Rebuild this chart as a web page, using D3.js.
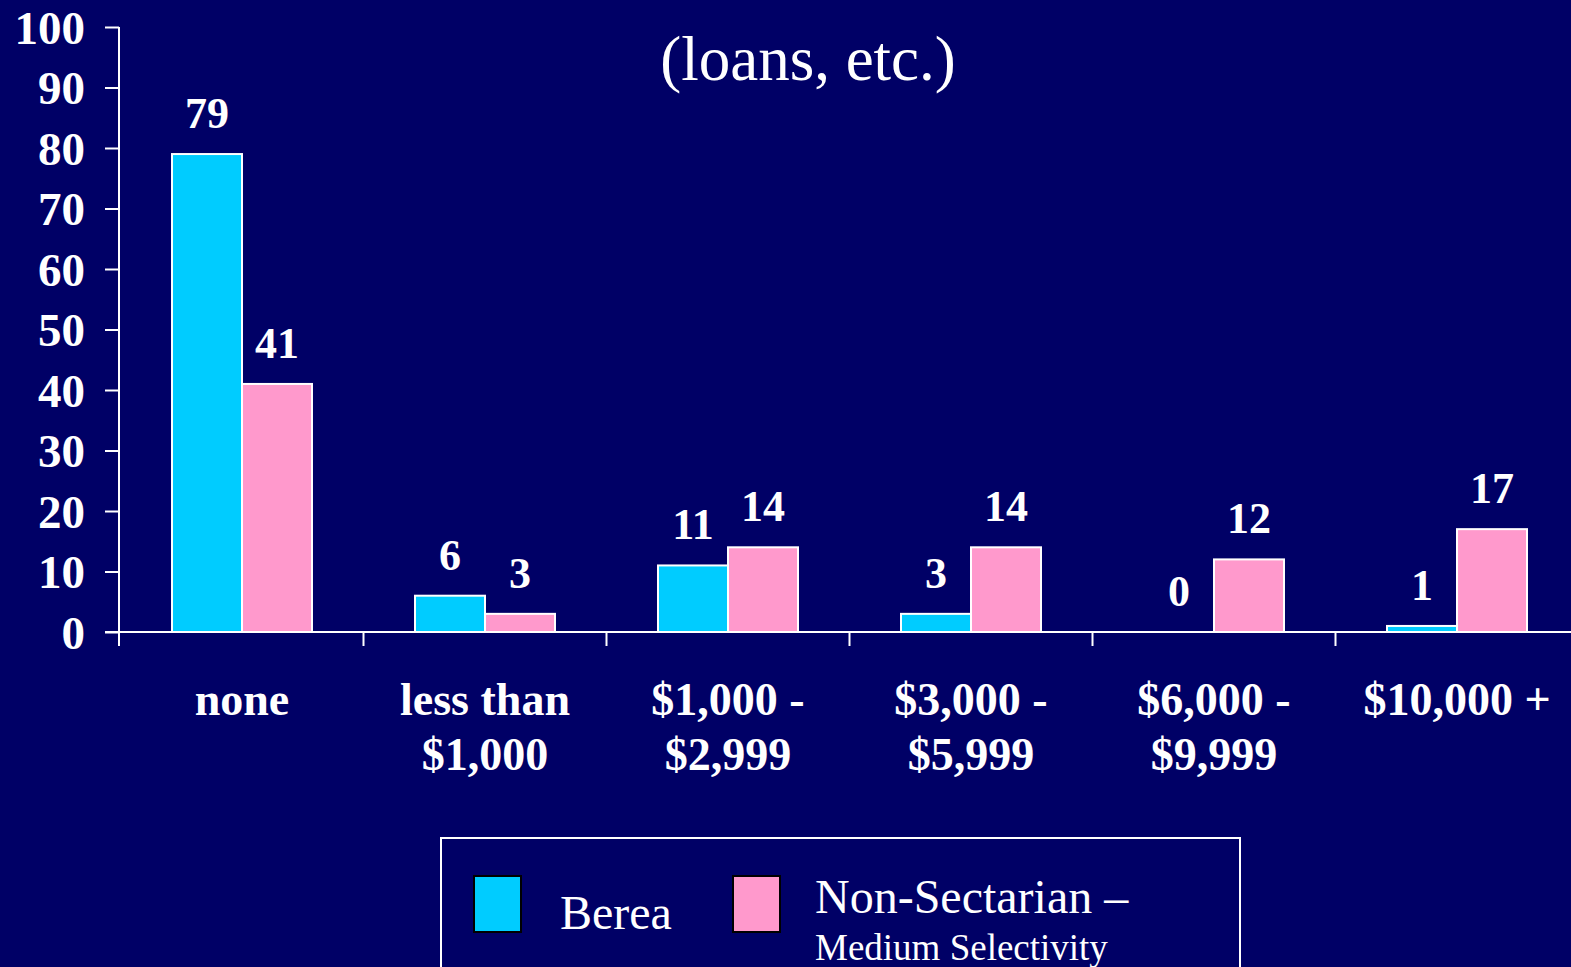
<!DOCTYPE html>
<html>
<head>
<meta charset="utf-8">
<script src="https://cdn.jsdelivr.net/npm/d3@7"></script>
<style>
  html, body { margin: 0; padding: 0; background: #000066; overflow: hidden; }
  text { font-family: "Liberation Serif", "Times New Roman", serif; fill: #ffffff; }
</style>
</head>
<body>
<div id="chart"></div>
<script>
// categories and series
const categories = [["none"], ["less than", "$1,000"], ["$1,000 -", "$2,999"],
                    ["$3,000 -", "$5,999"], ["$6,000 -", "$9,999"], ["$10,000 +"]];
const seriesNames = ["Berea", "Non-Sectarian"];
const berea = [79, 6, 11, 3, 0, 1];
const nonSectarian = [41, 3, 14, 14, 12, 17];
const yTicks = [0, 10, 20, 30, 40, 50, 60, 70, 80, 90, 100];
const colors = ["#00ccff", "#ff99cc"];

const width = 1571, height = 967;
const margin = { top: 27, left: 119, bottom: 335 };

const svg = d3.select("#chart").append("svg")
    .attr("width", width)
    .attr("height", height);

svg.append("rect").attr("width", width).attr("height", height).attr("fill", "#000066");

// subtitle
svg.append("text")
    .attr("x", 808).attr("y", 80)
    .attr("text-anchor", "middle")
    .style("font-size", "63px")
    .text("(loans, etc.)");

const g = svg.append("g").attr("transform", "translate(" + margin.left + "," + margin.top + ")");
const innerH = height - margin.top - margin.bottom;

const x0 = d3.scaleBand().domain(d3.range(categories.length)).range([1.5, 1.5 + 243 * 6]);
const x1 = d3.scaleBand().domain([0, 1]).range([51.5, 191.5]);
const y = d3.scaleLinear().domain([0, 100]).range([innerH, 0]);

const rows = categories.map((c, i) => ({ i: i, vals: [berea[i], nonSectarian[i]] }));

// bars
const groups = g.selectAll(".grp").data(rows).enter().append("g")
    .attr("transform", d => "translate(" + x0(d.i) + ",0)");

groups.selectAll("rect").data(d => d.vals.map((v, k) => ({ v: v, k: k }))).enter()
    .filter(d => d.v > 0)
    .append("rect")
    .attr("x", d => x1(d.k))
    .attr("y", d => y(d.v))
    .attr("width", x1.bandwidth())
    .attr("height", d => innerH - y(d.v))
    .attr("fill", d => colors[d.k])
    .attr("stroke", "#ffffff")
    .attr("stroke-width", 2);

groups.selectAll(".val").data(d => d.vals.map((v, k) => ({ v: v, k: k }))).enter()
    .append("text")
    .attr("class", "val")
    .attr("x", d => x1(d.k) + x1.bandwidth() / 2)
    .attr("y", d => y(d.v) - 26)
    .attr("text-anchor", "middle")
    .style("font-size", "44px").style("font-weight", "bold")
    .text(d => d.v);

// y axis
const yAxis = d3.axisLeft(y).tickValues(yTicks).tickSize(14).tickPadding(20);
const ya = g.append("g").call(yAxis);
ya.select(".domain").attr("stroke", "#fff").attr("stroke-width", 2).attr("d", "M0," + y(100) + "V" + innerH);
ya.selectAll(".tick line").attr("stroke", "#fff").attr("stroke-width", 2);
ya.selectAll(".tick text")
    .attr("fill", "#fff")
    .attr("dy", "0.35em")
    .style("font-family", "'Liberation Serif', 'Times New Roman', serif")
    .style("font-size", "47px").style("font-weight", "bold");

// x axis
const xAxis = d3.axisBottom(x0).tickValues([]).tickSizeOuter(0);
const xa = g.append("g").attr("transform", "translate(0," + innerH + ")").call(xAxis);
xa.select(".domain").attr("stroke", "#fff").attr("stroke-width", 2).attr("d", "M-14,0H" + (width - margin.left));
xa.selectAll(".bnd").data(d3.range(categories.length + 1)).enter().append("line")
    .attr("x1", d => d === 0 ? 0 : x0(0) + d * x0.step())
    .attr("x2", d => d === 0 ? 0 : x0(0) + d * x0.step())
    .attr("y1", 0).attr("y2", 14)
    .attr("stroke", "#fff").attr("stroke-width", 2);

// category labels
const cat = g.selectAll(".cat").data(categories).enter().append("text")
    .attr("class", "cat")
    .attr("x", (d, i) => x0(i) + x0.bandwidth() / 2)
    .attr("y", innerH + 83)
    .attr("text-anchor", "middle")
    .style("font-size", "46px").style("font-weight", "bold");
cat.selectAll("tspan").data(d => d).enter().append("tspan")
    .attr("x", function() { return d3.select(this.parentNode).attr("x"); })
    .attr("dy", (d, i) => i === 0 ? 0 : 55)
    .text(d => d);

// legend
const leg = svg.append("g");
leg.append("rect")
    .attr("x", 441).attr("y", 838).attr("width", 799).attr("height", 160)
    .attr("fill", "none").attr("stroke", "#fff").attr("stroke-width", 2);
leg.selectAll(".sw").data(seriesNames).enter().append("rect")
    .attr("x", (d, i) => [474, 733][i]).attr("y", 876)
    .attr("width", 47).attr("height", 56)
    .attr("fill", (d, i) => colors[i])
    .attr("stroke", "#000").attr("stroke-width", 2);
leg.append("text").attr("x", 560).attr("y", 929)
    .style("font-size", "48px").text("Berea");
leg.append("text").attr("x", 815).attr("y", 913)
    .style("font-size", "48px").text("Non-Sectarian –");
leg.append("text").attr("x", 815).attr("y", 960)
    .style("font-size", "37px").text("Medium Selectivity");
</script>
</body>
</html>
